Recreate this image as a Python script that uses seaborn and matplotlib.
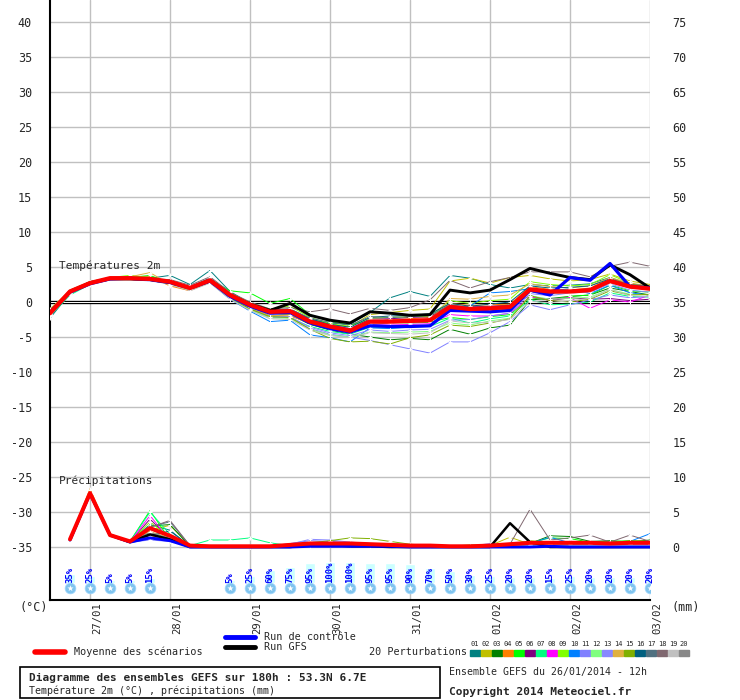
import matplotlib
matplotlib.use("Agg")
import matplotlib.pyplot as plt
from matplotlib.patches import Rectangle
import pandas as pd
import seaborn as sns

# time axis: hours after 26/01/2014 12h
hours_t = list(range(0, 181, 6))
hours_p = list(range(6, 181, 6))

date_hours = [12, 36, 60, 84, 108, 132, 156, 180]
date_labels = ["27/01", "28/01", "29/01", "30/01", "31/01", "01/02", "02/02", "03/02"]

# temperature 2m (deg C)
temp_mean = [-1.6, 1.5, 2.7, 3.4, 3.4, 3.3, 2.9, 2.0, 3.1, 1.0, -0.4, -1.4, -1.3, -2.8, -3.5, -4.1,
             -2.8, -2.8, -2.7, -2.6, -0.7, -1.0, -0.9, -0.7, 1.8, 1.5, 1.5, 1.7, 3.0, 2.2, 1.9]
temp_ctrl = [-1.5, 1.4, 2.6, 3.3, 3.4, 3.2, 2.8, 2.0, 3.0, 0.8, -0.6, -1.6, -1.5, -3.0, -3.8, -4.3,
             -3.4, -3.5, -3.5, -3.4, -1.2, -1.3, -1.4, -1.2, 1.7, 1.0, 3.5, 3.1, 5.5, 2.2, 2.0]
temp_gfs = [-1.5, 1.5, 2.7, 3.3, 3.3, 3.2, 2.8, 2.0, 3.0, 1.0, -0.3, -1.2, -0.2, -1.9, -2.6, -3.0,
            -1.4, -1.6, -1.9, -1.8, 1.7, 1.3, 1.7, 3.2, 4.8, 4.1, 3.5, 3.2, 5.3, 3.9, 2.0]

t01 = [-2.3, 1.2, 2.6, 3.3, 3.5, 3.4, 3.8, 2.5, 4.5, 1.5, -0.2, -1.2, -1.5, -2.5, -3.0, -3.2,
       -1.5, 0.6, 1.5, 0.8, 3.8, 3.4, 2.5, 2.0, 2.5, 2.3, 2.4, 2.6, 3.5, 2.5, 2.2]
t02 = [-1.0, 1.6, 2.9, 3.4, 3.3, 3.2, 2.6, 1.7, 2.9, 0.8, -0.8, -1.6, -1.4, -2.6, -3.2, -3.5,
       -1.8, -1.5, -1.2, -1.0, 3.0, 3.4, 2.7, 3.5, 3.8, 3.3, 3.0, 3.2, 4.0, 3.0, 2.5]
t03 = [-1.8, 1.3, 2.6, 3.3, 3.4, 3.3, 2.8, 1.9, 3.0, 0.9, -0.6, -1.6, -1.8, -3.2, -4.0, -4.6,
       -5.0, -5.4, -5.2, -5.4, -3.9, -4.6, -3.7, -3.3, 0.3, 0.5, 0.8, 1.0, 2.0, 1.5, 1.0]
t04 = [-1.2, 1.6, 2.8, 3.5, 3.5, 3.6, 2.3, 1.6, 2.9, 0.5, -0.8, -1.9, -2.0, -3.0, -3.6, -3.9,
       -2.9, -2.5, -2.4, -2.2, -0.2, -0.5, -0.4, -0.3, 2.2, 1.8, 1.7, 2.0, 3.3, 2.6, 2.0]
t05 = [-1.4, 1.7, 2.9, 3.4, 3.5, 3.8, 2.7, 1.8, 3.2, 1.6, 1.3, -0.2, 0.5, -1.8, -2.8, -3.3,
       -2.6, -2.9, -3.0, -2.9, -2.2, -2.5, -2.1, -1.8, 0.6, 0.3, 0.8, 1.0, 2.4, 1.6, 1.4]
t06 = [-1.5, 1.4, 2.6, 3.3, 3.3, 3.1, 2.9, 2.1, 3.3, 1.2, -0.3, -1.2, -1.1, -2.5, -3.3, -3.8,
       -2.4, -2.4, -2.2, -2.1, -0.5, -0.7, -0.6, -0.5, 0.9, 0.2, 0.6, 0.4, 0.5, 0.2, 0.4]
t07 = [-2.0, 1.0, 2.5, 3.2, 3.3, 3.2, 2.8, 2.0, 3.3, 0.8, -1.0, -2.0, -2.3, -3.5, -4.2, -4.6,
       -3.6, -3.7, -3.6, -3.5, -2.3, -3.0, -2.4, -2.0, 0.3, -0.4, -0.3, 0.0, 1.3, 0.8, 0.7]
t08 = [-1.6, 1.5, 2.8, 3.4, 3.3, 3.3, 2.9, 2.1, 3.1, 1.0, -0.5, -1.6, -1.6, -3.0, -3.7, -4.0,
       -3.2, -3.3, -3.2, -3.1, -1.8, -2.0, -2.0, -1.6, 0.7, 0.4, 0.6, -0.9, 0.3, 0.0, 1.0]
t09 = [-1.3, 1.6, 2.9, 3.5, 3.8, 3.5, 2.9, 2.1, 3.3, 1.3, -0.1, -1.0, -0.6, -2.2, -3.1, -3.5,
       -2.3, -2.2, -2.1, -2.0, 0.2, -0.2, 0.2, 0.4, 2.9, 2.5, 2.3, 2.5, 3.9, 2.7, 2.1]
t10 = [-1.8, 1.3, 2.7, 3.4, 3.3, 3.1, 2.6, 1.8, 2.8, 0.4, -1.3, -2.8, -2.6, -4.7, -5.1, -5.7,
       -3.7, -3.8, -3.6, -3.3, -0.8, -0.6, 1.3, 1.5, 1.9, 1.6, 1.9, 1.2, 2.4, 1.3, 1.0]
t11 = [-1.9, 1.2, 2.6, 3.3, 3.2, 3.1, 2.7, 1.9, 2.9, 0.6, -1.0, -2.2, -2.2, -3.8, -4.6, -5.0,
       -5.5, -6.1, -6.7, -7.3, -5.7, -5.7, -4.4, -2.8, -0.4, -1.1, -0.4, 0.3, 1.0, 0.6, 0.8]
t12 = [-1.7, 1.4, 2.7, 3.3, 3.4, 3.2, 2.7, 1.9, 3.0, 0.6, -1.1, -2.3, -2.3, -3.9, -4.7, -5.0,
       -4.3, -4.4, -4.3, -4.2, -3.0, -3.3, -2.7, -2.3, 0.9, 0.4, 0.5, 0.7, 1.8, 1.1, 1.0]
t13 = [-1.6, 1.5, 2.8, 3.4, 3.2, 3.0, 2.6, 1.8, 2.9, 0.7, -0.9, -2.0, -2.1, -3.6, -4.4, -4.8,
       -4.0, -4.2, -4.0, -3.9, -2.6, -2.5, -2.0, -1.6, 1.2, 0.9, 1.3, 1.4, 2.6, 1.7, 1.4]
t14 = [-1.1, 1.7, 2.8, 3.5, 3.6, 4.2, 2.5, 1.7, 3.0, 0.7, -0.9, -2.0, -1.8, -3.1, -3.8, -4.0,
       -3.0, -2.9, -2.8, -2.6, 0.5, 0.4, 0.8, 1.0, 2.6, 2.2, 2.0, 2.3, 3.5, 2.7, 2.3]
t15 = [-1.7, 1.4, 2.7, 3.3, 3.3, 3.2, 2.7, 1.8, 2.9, 0.6, -1.0, -2.1, -2.2, -3.9, -5.2, -5.7,
       -5.6, -6.0, -5.1, -4.7, -3.3, -3.5, -3.0, -2.4, 0.9, 0.2, 0.0, 0.4, 1.6, 1.0, 1.1]
t16 = [-1.4, 1.6, 2.9, 3.5, 3.5, 3.4, 3.0, 2.2, 3.4, 1.2, -0.2, -1.2, -1.0, -2.4, -3.2, -3.6,
       -2.2, -2.0, -1.9, -1.7, -0.2, -0.6, -0.3, 0.0, 2.3, 2.0, 2.1, 2.3, 3.3, 2.4, 2.0]
t17 = [-1.3, 1.5, 2.8, 3.4, 3.4, 3.3, 3.0, 2.1, 3.2, 1.1, -0.3, -1.1, -1.0, -2.3, -2.9, -3.3,
       -2.1, -2.2, -2.1, -1.9, -0.4, -0.8, -0.7, -0.4, 1.8, 1.7, 1.6, 1.9, 3.1, 2.5, 2.3]
t18 = [-1.2, 1.5, 2.8, 3.3, 3.4, 3.3, 3.2, 2.4, 3.6, 1.4, 0.0, -1.0, -0.8, -1.4, -1.0, -1.7,
       -0.9, -1.2, -0.8, 0.3, 3.1, 2.0, 2.9, 3.5, 4.3, 4.3, 4.3, 3.6, 5.1, 5.7, 5.1]
t19 = [-1.9, 1.3, 2.7, 3.4, 3.3, 3.1, 2.5, 1.6, 2.7, 0.4, -1.2, -2.4, -2.5, -4.0, -4.8, -5.1,
       -4.4, -4.5, -4.6, -4.4, -2.7, -3.0, -2.9, -2.5, 0.1, -0.1, 0.2, 0.5, 1.8, 0.9, 0.8]
t20 = [-1.4, 1.5, 2.7, 3.3, 3.3, 3.1, 2.6, 1.8, 3.0, 0.7, -0.7, -1.7, -1.6, -3.1, -3.8, -4.2,
       -3.2, -3.0, -2.9, -2.8, -1.0, -1.3, -1.2, -1.0, 1.4, 1.2, 1.4, 1.6, 2.8, 2.0, 1.9]

# precipitation (mm per 6h)
prec_mean = [1.1, 7.7, 1.7, 0.8, 2.7, 1.6, 0.2, 0.1, 0.1, 0.1, 0.1, 0.3, 0.5, 0.5, 0.5,
             0.4, 0.3, 0.2, 0.2, 0.1, 0.1, 0.2, 0.4, 0.6, 0.6, 0.6, 0.6, 0.5, 0.6, 0.6]
prec_ctrl = [1.0, 7.6, 1.7, 0.7, 1.3, 0.9, 0.0, 0.0, 0.0, 0.0, 0.0, 0.0, 0.1, 0.1, 0.1,
             0.1, 0.1, 0.0, 0.0, 0.0, 0.0, 0.0, 0.0, 0.0, 0.1, 0.0, 0.0, 0.0, 0.0, 0.0]
prec_gfs = [1.0, 7.7, 1.7, 0.7, 1.8, 1.1, 0.0, 0.0, 0.0, 0.0, 0.0, 0.0, 0.3, 0.3, 0.1,
            0.1, 0.0, 0.0, 0.0, 0.0, 0.0, 0.0, 3.4, 0.7, 0.0, 0.0, 0.0, 0.0, 0.0, 0.0]

p01 = [1.0, 7.6, 1.7, 0.8, 3.2, 2.4, 0.1, 0.0, 0.0, 0.0, 0.0, 0.2, 0.3, 0.3, 0.4,
       0.3, 0.2, 0.2, 0.1, 0.1, 0.1, 0.0, 0.1, 0.3, 0.5, 0.6, 0.4, 0.5, 0.6, 0.8]
p02 = [1.1, 7.9, 1.8, 0.7, 2.4, 3.1, 0.2, 0.0, 0.0, 0.1, 0.0, 0.2, 0.4, 0.5, 0.6,
       0.4, 0.2, 0.1, 0.0, 0.0, 0.0, 0.2, 1.4, 0.4, 0.3, 0.5, 0.6, 0.4, 0.5, 0.7]
p03 = [1.0, 7.5, 1.6, 0.6, 3.0, 3.2, 0.1, 0.0, 0.0, 0.0, 0.1, 0.1, 0.2, 0.3, 0.3,
       0.2, 0.1, 0.2, 0.1, 0.1, 0.0, 0.1, 0.2, 0.5, 1.6, 1.5, 0.8, 0.9, 0.7, 1.0]
p04 = [1.2, 8.3, 1.8, 0.7, 1.5, 1.2, 0.1, 0.0, 0.0, 0.0, 0.0, 0.1, 0.3, 0.4, 0.4,
       0.3, 0.2, 0.1, 0.1, 0.0, 0.0, 0.1, 0.3, 0.5, 0.4, 0.3, 0.6, 0.5, 0.4, 0.6]
p05 = [1.1, 7.7, 1.7, 0.8, 5.2, 1.0, 0.1, 0.0, 0.0, 0.0, 0.0, 0.2, 0.3, 0.4, 0.5,
       0.3, 0.2, 0.1, 0.1, 0.0, 0.0, 0.1, 0.2, 0.6, 1.3, 1.2, 0.7, 0.8, 0.9, 0.8]
p06 = [1.0, 7.8, 1.7, 0.7, 4.0, 1.1, 0.1, 0.0, 0.0, 0.0, 0.0, 0.2, 0.3, 0.4, 0.4,
       0.3, 0.2, 0.2, 0.1, 0.1, 0.0, 0.1, 0.2, 0.4, 0.5, 0.6, 0.7, 0.6, 0.5, 0.4]
p07 = [1.1, 7.6, 1.6, 0.8, 5.0, 1.8, 0.2, 1.0, 1.0, 1.3, 0.6, 0.2, 0.3, 0.3, 0.3,
       0.2, 0.2, 0.1, 0.1, 0.1, 0.0, 0.1, 0.2, 0.3, 0.4, 0.5, 0.5, 0.4, 0.6, 0.5]
p08 = [1.0, 7.7, 1.7, 0.7, 4.5, 0.9, 0.1, 0.0, 0.0, 0.0, 0.0, 0.2, 0.3, 0.4, 0.4,
       0.3, 0.2, 0.1, 0.1, 0.0, 0.0, 0.1, 0.2, 0.3, 0.5, 0.4, 0.6, 0.5, 0.4, 0.5]
p09 = [1.1, 7.8, 1.8, 0.7, 3.6, 1.3, 0.1, 0.0, 0.0, 0.0, 0.0, 0.2, 0.3, 0.5, 0.6,
       0.4, 0.3, 0.2, 0.1, 0.0, 0.0, 0.2, 0.4, 0.9, 0.6, 0.5, 0.6, 0.5, 0.4, 0.6]
p10 = [1.0, 7.5, 1.6, 0.6, 1.2, 1.5, 0.1, 0.0, 0.0, 0.0, 0.0, 0.1, 0.2, 0.3, 0.3,
       0.2, 0.2, 0.1, 0.1, 0.0, 0.0, 0.1, 0.3, 0.5, 1.4, 0.6, 0.5, 0.6, 0.8, 1.9]
p11 = [1.0, 7.6, 1.7, 0.7, 1.0, 0.8, 0.1, 0.0, 0.0, 0.0, 0.1, 0.5, 0.9, 0.8, 0.6,
       0.4, 0.3, 0.2, 0.1, 0.1, 0.0, 0.1, 0.2, 0.4, 0.5, 0.7, 0.6, 0.5, 0.6, 0.5]
p12 = [1.1, 7.7, 1.7, 0.8, 2.0, 1.0, 0.1, 0.0, 0.0, 0.0, 0.0, 0.1, 0.2, 0.3, 0.4,
       0.3, 0.2, 0.1, 0.1, 0.0, 0.0, 0.1, 0.2, 0.3, 0.4, 0.4, 0.5, 0.6, 0.5, 0.6]
p13 = [1.0, 7.8, 1.7, 0.7, 1.8, 1.1, 0.1, 0.0, 0.0, 0.0, 0.1, 0.4, 1.1, 1.0, 0.7,
       0.5, 0.3, 0.2, 0.1, 0.1, 0.1, 0.5, 0.4, 0.3, 0.5, 0.5, 0.6, 0.5, 0.5, 0.6]
p14 = [1.2, 8.2, 1.9, 0.8, 2.2, 1.3, 0.1, 0.0, 0.0, 0.0, 0.0, 0.2, 0.3, 0.5, 0.5,
       0.3, 0.2, 0.1, 0.1, 0.0, 0.0, 0.1, 0.3, 0.5, 0.4, 0.5, 0.4, 0.5, 0.6, 0.5]
p15 = [1.0, 7.6, 1.7, 0.7, 2.6, 1.4, 0.1, 0.0, 0.0, 0.0, 0.0, 0.3, 0.6, 0.9, 1.3,
       1.2, 0.8, 0.4, 0.2, 0.1, 0.3, 0.3, 0.3, 0.6, 0.8, 0.6, 0.7, 0.6, 0.9, 0.8]
p16 = [1.0, 7.7, 1.7, 0.7, 1.6, 2.3, 0.1, 0.0, 0.0, 0.0, 0.0, 0.1, 0.2, 0.3, 0.4,
       0.3, 0.2, 0.1, 0.1, 0.0, 0.0, 0.1, 0.2, 0.4, 0.5, 0.5, 0.5, 0.6, 0.5, 0.5]
p17 = [1.1, 7.8, 1.8, 0.7, 2.9, 3.6, 0.2, 0.0, 0.0, 0.0, 0.0, 0.2, 0.3, 0.4, 0.4,
       0.3, 0.2, 0.1, 0.1, 0.0, 0.0, 0.1, 0.2, 0.4, 0.4, 0.4, 0.5, 0.6, 0.5, 0.6]
p18 = [1.0, 7.7, 1.7, 0.8, 2.8, 3.8, 0.2, 0.0, 0.0, 0.0, 0.0, 0.2, 0.3, 0.4, 0.4,
       0.3, 0.2, 0.1, 0.1, 0.0, 0.0, 0.1, 0.4, 5.4, 1.0, 1.3, 1.7, 0.7, 1.7, 0.8]
p19 = [1.1, 7.6, 1.7, 0.7, 1.4, 0.9, 0.1, 0.0, 0.0, 0.0, 0.0, 0.1, 0.2, 0.3, 0.3,
       0.2, 0.2, 0.1, 0.1, 0.0, 0.0, 0.1, 0.2, 0.3, 0.4, 0.4, 0.5, 0.4, 0.5, 0.5]
p20 = [1.0, 7.7, 1.8, 0.7, 2.1, 1.2, 0.1, 0.0, 0.0, 0.0, 0.0, 0.2, 0.3, 0.4, 0.4,
       0.3, 0.2, 0.1, 0.1, 0.0, 0.0, 0.1, 0.2, 0.4, 0.5, 0.4, 0.5, 0.5, 0.6, 0.5]

# snow probability
snow_hours = [6, 12, 18, 24, 30, 54, 60, 66, 72, 78, 84, 90, 96, 102, 108, 114, 120,
              126, 132, 138, 144, 150, 156, 162, 168, 174, 180]
snow_pct = [35, 25, 5, 5, 15, 5, 25, 60, 75, 95, 100, 100, 95, 95, 90, 70, 50,
            30, 25, 20, 20, 15, 25, 20, 20, 20, 20]

member_names = ["%02d" % i for i in range(1, 21)]
member_colors = ["#008080", "#c0c000", "#008000", "#ff8000", "#00ff00", "#800080",
                 "#00ff80", "#ff00ff", "#80ff00", "#0080ff", "#8080ff", "#80ff80",
                 "#8888ff", "#e0b040", "#80b000", "#006080", "#507080", "#806870",
                 "#c0c0c0", "#888888"]

pert_temp = [t01, t02, t03, t04, t05, t06, t07, t08, t09, t10,
             t11, t12, t13, t14, t15, t16, t17, t18, t19, t20]
pert_prec = [p01, p02, p03, p04, p05, p06, p07, p08, p09, p10,
             p11, p12, p13, p14, p15, p16, p17, p18, p19, p20]

PREC_BASE = -35  # 0 mm sits at -35 on the temperature axis

rows = []
for name, t, p in zip(member_names, pert_temp, pert_prec):
    for h, v in zip(hours_t, t):
        rows.append({"hour": h, "val": v, "member": name, "var": "t"})
    for h, v in zip(hours_p, p):
        rows.append({"hour": h, "val": PREC_BASE + v, "member": name, "var": "p"})
df = pd.DataFrame(rows)

sns.set_style("white")
plt.rcParams["font.family"] = ["DejaVu Sans Mono"]

fig = plt.figure(figsize=(7.4, 7.0), dpi=100)
ax = fig.add_axes([50 / 740, 100 / 700, 600 / 740, 600 / 700])

ymin, ymax = (302 - 600) / 7, 302 / 7
ax.set_xlim(0, 180)
ax.set_ylim(ymin, ymax)

yt = list(range(-35, 41, 5))
ax.set_yticks(yt)
ax.set_yticklabels([str(v) for v in yt])
ax.set_xticks(date_hours)
ax.set_xticklabels([])
ax.grid(True, color="#c0c0c0", lw=1.0)
ax.set_axisbelow(True)
ax.tick_params(axis="both", length=0, labelsize=8.5)
ax.tick_params(axis="y", pad=13)
for s in ["top", "right"]:
    ax.spines[s].set_visible(False)
for s in ["left", "bottom"]:
    ax.spines[s].set_color("black")
    ax.spines[s].set_linewidth(1.5)

ax2 = ax.twinx()
ax2.set_ylim(ymin, ymax)
ax2.set_yticks(yt)
ax2.set_yticklabels([str(v - PREC_BASE) for v in yt])
ax2.tick_params(axis="y", length=0, labelsize=8.5, pad=16)
for s in ax2.spines.values():
    s.set_visible(False)

# zero line, drawn double
ax.axhline(0, color="black", lw=2.4, zorder=2)
ax.axhline(0, color="white", lw=0.7, zorder=2)

# snow probability bars + labels + icons
snow_base = (302 - 583) / 7
ax.bar(snow_hours, [2.6 * p / 100 + 0.35 for p in snow_pct], bottom=snow_base,
       width=3.0, color="#ccffff", zorder=2)
for h, p in zip(snow_hours, snow_pct):
    ax.text(h, snow_base + 0.05, "%d%%" % p, rotation=90, ha="center", va="bottom",
            color="#0000ff", fontsize=6.5, fontweight="bold", zorder=3)
icon_y = [(302 - 588) / 7] * len(snow_hours)
ax.scatter(snow_hours, icon_y, s=60, color="#80c4ee", edgecolor="#a0d8ff", lw=0.5, zorder=3)
ax.scatter(snow_hours, icon_y, s=22, marker="*", color="white", lw=0, zorder=4)

# perturbations
pal = dict(zip(member_names, member_colors))
for var in ["t", "p"]:
    sns.lineplot(data=df[df["var"] == var], x="hour", y="val", hue="member", palette=pal,
                 lw=0.7, marker="+", markersize=3.5, markeredgewidth=0.7,
                 estimator=None, legend=False, ax=ax, zorder=3)

# GFS, control, mean
ax.plot(hours_t, temp_gfs, color="black", lw=2.1, zorder=4)
ax.plot(hours_p, [PREC_BASE + v for v in prec_gfs], color="black", lw=1.8, zorder=4)
ax.plot(hours_t, temp_ctrl, color="#0000ff", lw=2.3, zorder=5)
ax.plot(hours_p, [PREC_BASE + v for v in prec_ctrl], color="#0000ff", lw=2.1, zorder=5)
ax.plot(hours_t, temp_mean, color="#ff0000", lw=3.1, zorder=6)
ax.plot(hours_p, [PREC_BASE + v for v in prec_mean], color="#ff0000", lw=2.9, zorder=6)
ax.set_xlabel("")
ax.set_ylabel("")

ax.text(2.7, 5.2, "Températures 2m", fontsize=8, va="center", ha="left", zorder=7)
ax.text(2.7, (302 - 481) / 7, "Précipitations", fontsize=8, va="center", ha="left", zorder=7)

# date labels below the axis, rotated
for h, lab in zip(date_hours, date_labels):
    ax.text(h + 2.1, ymin - 0.3, lab, rotation=90, ha="center", va="top", fontsize=7.6,
            clip_on=False)

# annotations and legend in pixel coordinates
ov = fig.add_axes([0, 0, 1, 1], facecolor="none")
ov.set_xlim(0, 740)
ov.set_ylim(700, 0)
ov.axis("off")

ov.text(20, 607, "(°C)", fontsize=8.5, va="center")
ov.text(671, 607, "(mm)", fontsize=8.5, va="center")

ov.plot([35, 65], [652, 652], color="#ff0000", lw=4)
ov.text(74, 652, "Moyenne des scénarios", fontsize=7.3, va="center")
ov.plot([225, 255], [637, 637], color="#0000ff", lw=3.5)
ov.text(264, 637, "Run de contrôle", fontsize=7.3, va="center")
ov.plot([225, 255], [647, 647], color="black", lw=3.5)
ov.text(264, 647.5, "Run GFS", fontsize=7.3, va="center")
ov.text(369, 652, "20 Perturbations", fontsize=7.3, va="center")
for k, (name, col) in enumerate(zip(member_names, member_colors)):
    x0 = 470 + 11 * k
    ov.add_patch(Rectangle((x0, 650), 10, 6, color=col))
    ov.text(x0 + 5, 644, name, fontsize=5, ha="center", va="center")

ov.add_patch(Rectangle((20, 667), 420, 31, fill=False, edgecolor="black", lw=1.2))
ov.text(29, 677.5, "Diagramme des ensembles GEFS sur 180h : 53.3N 6.7E", fontsize=8,
        fontweight="bold", va="center")
ov.text(29, 691, "Température 2m (°C) , précipitations (mm)", fontsize=7.2, va="center")
ov.text(449, 672, "Ensemble GEFS du 26/01/2014 - 12h", fontsize=7.1, va="center")
ov.text(449, 692, "Copyright 2014 Meteociel.fr", fontsize=8, fontweight="bold", va="center")

fig.savefig("out.png", dpi=100)
